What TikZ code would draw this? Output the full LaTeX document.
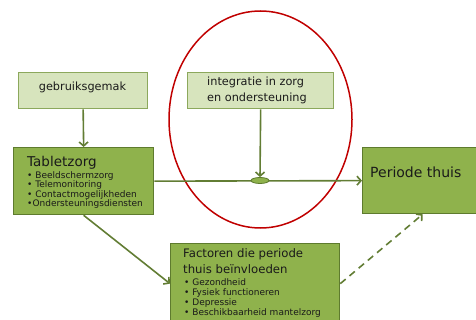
\documentclass[tikz,border=0pt]{standalone}
\usepackage{fontspec}
\setmainfont{DejaVu Sans}
\usetikzlibrary{arrows.meta,shapes.geometric}
\definecolor{lightfill}{HTML}{D7E4BD}
\definecolor{lightdraw}{HTML}{8CA85C}
\definecolor{darkfill}{HTML}{8FB24C}
\definecolor{darkdraw}{HTML}{5E7B2E}
\definecolor{arrowc}{HTML}{627D34}
\definecolor{redc}{HTML}{C00000}
\definecolor{txtc}{HTML}{1A1A1A}
\begin{document}
\begin{tikzpicture}[x=1pt,y=-1pt,
  lightbox/.style={draw=lightdraw, fill=lightfill, line width=1.3pt, inner sep=0, anchor=north west},
  darkbox/.style={draw=darkdraw, fill=darkfill, line width=1.3pt, inner sep=0, anchor=north west},
  txt/.style={inner sep=0, anchor=base west, text=txtc},
  bigtxt/.style={txt, font=\fontsize{13.5}{16}\selectfont},
  midtxt/.style={txt, font=\fontsize{11.3}{14}\selectfont},
  smalltxt/.style={txt, font=\fontsize{9}{10}\selectfont},
  conn/.style={draw=arrowc, line width=1.6pt, -{Straight Barb[length=4pt,width=9pt]}},
]
\useasboundingbox (0,0) rectangle (476,320);
\clip (0,0) rectangle (476,320);

% red ellipse
\node[draw=redc, line width=1.5pt, ellipse, minimum width=183pt, minimum height=217pt, inner sep=0] (circ) at (260.5,119.5) {};

% boxes
\node[lightbox, minimum width=129pt, minimum height=36pt] (geb) at (18,72) {};
\node[darkbox, minimum width=140pt, minimum height=67pt] (tab) at (13,147) {};
\node[lightbox, minimum width=146pt, minimum height=36pt] (int) at (187,72) {};
\node[darkbox, minimum width=120pt, minimum height=66pt] (per) at (362,147) {};
\node[darkbox, minimum width=169pt, minimum height=80pt] (fac) at (170,243) {};

% texts
\node[midtxt, anchor=base] (tgeb) at (82.5,91) {gebruiksgemak};
\node[bigtxt] (ttab) at (27,167) {Tabletzorg};
\node[smalltxt] (tb1) at (27,178.3) {• Beeldschermzorg};
\node[smalltxt] (tb2) at (27,187.8) {• Telemonitoring};
\node[smalltxt] (tb3) at (27,197.4) {• Contactmogelijkheden};
\node[smalltxt] (tb4) at (27,207) {•Ondersteuningsdiensten};
\node[midtxt] (tint1) at (207,85.7) {integratie in zorg};
\node[midtxt] (tint2) at (207,101.7) {en ondersteuning};
\node[txt, font=\fontsize{14}{16}\selectfont] (tper) at (370,178) {Periode thuis};
\node[txt, font=\fontsize{11.7}{14}\selectfont] (tfac1) at (183,258) {Factoren die periode};
\node[txt, font=\fontsize{11.7}{14}\selectfont] (tfac2) at (183,273) {thuis beïnvloeden};
\node[smalltxt] (tf1) at (184,285) {• Gezondheid};
\node[smalltxt] (tf2) at (184,295) {• Fysiek functioneren};
\node[smalltxt] (tf3) at (184,305) {• Depressie};
\node[smalltxt] (tf4) at (184,315) {• Beschikbaarheid mantelzorg};

% connectors
\draw[conn] (geb.south) -- (tab.north);
\draw[conn] (tab.east) -- (per.west);
\node[ellipse, fill=darkfill, draw=darkdraw, line width=0.8pt, minimum width=18pt, minimum height=6pt, inner sep=0] (knot) at (260,180.5) {};
\draw[conn] (int.south) -- (knot.north);
\draw[conn] (tab.south) -- (fac.west);
\draw[conn, dash pattern=on 7pt off 5pt] (fac.east) -- (per.south);
\end{tikzpicture}
\end{document}
